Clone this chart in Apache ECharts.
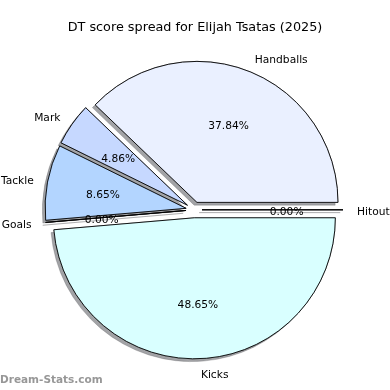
<!DOCTYPE html>
<html><head><meta charset="utf-8">
<script src="https://cdn.jsdelivr.net/npm/echarts@6/dist/echarts.min.js"></script>
<style>html,body{margin:0;padding:0;background:#fff}#c{width:390px;height:390px}</style>
</head><body><div id="c"></div>
<script>
const categories = ['Handballs', 'Mark', 'Tackle', 'Goals', 'Kicks', 'Hitout'];
const values = [70, 9, 16, 0, 90, 0];
const sliceColors = ['#eaf0ff', '#c6d8ff', '#b3d5ff', '#ffe0e0', '#d9ffff', '#e0e0e0'];
const titleText = 'DT score spread for Elijah Tsatas (2025)';
const watermark = 'Dream-Stats.com';

const R = 141, CX = 194, CY = 209.8, OFF = 8;
const FONT = 'DejaVu Sans';
const common = {
  type: 'pie', center: [CX, CY], startAngle: 0, clockwise: false,
  selectedMode: 'multiple', selectedOffset: OFF, avoidLabelOverlap: false,
  silent: true, animation: false, emphasis: { disabled: true },
  minShowLabelAngle: 0
};
const mk = (style) => categories.map((n, i) => ({ name: n, value: values[i], selected: true, itemStyle: style(i) }));
const total = values.reduce((a, b) => a + b, 0);

const chart = echarts.init(document.getElementById('c'), null, { renderer: 'canvas' });
chart.setOption({
  backgroundColor: '#fff',
  animation: false,
  title: { text: titleText, left: 'center', top: 16, textStyle: { fontFamily: FONT, fontSize: 12.8, fontWeight: 'normal', color: '#000' } },
  graphic: [{ type: 'text', left: 0, top: 375, style: { text: watermark, fontFamily: FONT, fontSize: 10.5, fontWeight: 'bold', fill: 'rgba(140,140,140,0.9)' } }],
  series: [
    Object.assign({}, common, {
      name: 'shadows', radius: [0, R], z: 1,
      label: { show: false }, labelLine: { show: false },
      data: mk(i => ({ color: sliceColors[i], borderColor: 'rgba(70,72,77,0.5)', borderWidth: 1, shadowColor: 'rgba(70,72,77,0.5)', shadowBlur: 0, shadowOffsetX: -2.8, shadowOffsetY: 2.8 })),
      select: { itemStyle: { borderColor: 'rgba(70,72,77,0.5)', borderWidth: 1 } }
    }),
    Object.assign({}, common, {
      name: 'wedges', radius: [0, R], z: 2,
      label: { show: false }, labelLine: { show: false },
      data: mk(i => ({ color: sliceColors[i], borderColor: '#000', borderWidth: 0.9 })),
      select: { itemStyle: { borderColor: '#000', borderWidth: 0.9 } }
    }),
    Object.assign({}, common, {
      name: 'pct', radius: [R * 0.2 - 6, R], z: 3,
      label: { show: true, position: 'inside', fontFamily: FONT, fontSize: 10.67, color: '#000',
        formatter: p => (p.value / total * 100).toFixed(2) + '%' },
      labelLayout: () => ({ dy: 2.5 }),
      labelLine: { show: false },
      data: mk(i => ({ color: 'rgba(0,0,0,0)', borderWidth: 0 })),
      select: { itemStyle: { color: 'rgba(0,0,0,0)', borderWidth: 0 } }
    }),
    Object.assign({}, common, {
      name: 'names', radius: [0, R], z: 3,
      label: { show: true, position: 'outside', fontFamily: FONT, fontSize: 10.67, color: '#000',
        formatter: '{b}', distanceToLabelLine: 0, overflow: 'none' },
      labelLayout: () => ({ dy: 2 }),
      labelLine: { show: false, length: R * 0.1, length2: 0 },
      data: mk(i => ({ color: 'rgba(0,0,0,0)', borderWidth: 0 })),
      select: { itemStyle: { color: 'rgba(0,0,0,0)', borderWidth: 0 } }
    })
  ]
});
</script></body></html>
